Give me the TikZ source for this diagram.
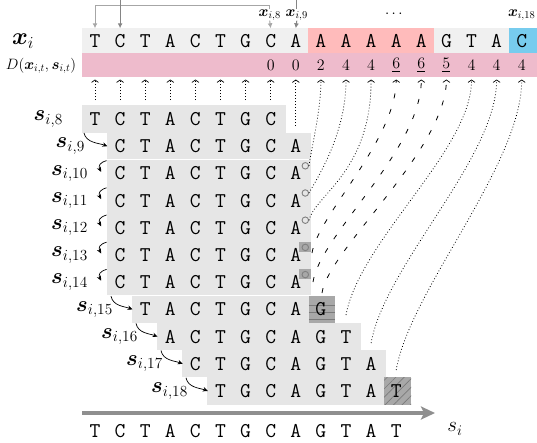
\documentclass[tikz,border=0pt]{standalone}
\usepackage{fix-cm}
\usepackage{fontspec}
\usepackage{amsmath,bm}
\usetikzlibrary{arrows.meta,patterns.meta}
\definecolor{rowgray}{HTML}{E6E6E6}
\definecolor{topgray}{HTML}{F0F0F0}
\definecolor{dpink}{HTML}{EEBBCC}
\definecolor{apink}{HTML}{FFBBBB}
\definecolor{cblue}{HTML}{77CCEE}
\definecolor{markgray}{HTML}{A8A8A8}
\definecolor{hatchgray}{HTML}{7A7A7A}
\definecolor{lightarr}{HTML}{A6A6A6}
\definecolor{darkarr}{HTML}{858585}
\definecolor{bigarr}{HTML}{8F8F8F}
\newcommand\posx[1]{(95+(#1-1)*25.1)}
\newcommand\posy[1]{(119+(#1-8)*27.2)}
\tikzset{
  lt/.style={font=\fontsize{21}{25}\selectfont\ttfamily, inner sep=0pt, minimum width=25pt, minimum height=25pt},
  dv/.style={font=\fontsize{16}{19}\selectfont, inner sep=0pt, minimum height=28pt},
  slab/.style={font=\fontsize{22}{26}\selectfont, inner sep=0pt, anchor=east},
  tlab/.style={font=\fontsize{15}{18}\selectfont, inner sep=0pt},
  tiparr/.style={-{Straight Barb[length=2.5pt,width=7pt,line width=0.7pt]}},
  dotc/.style={tiparr, line width=0.8pt, dash pattern=on 0.8pt off 2.2pt},
  dashc/.style={tiparr, line width=0.8pt, dash pattern=on 5pt off 11pt},
  bendarr/.style={line width=0.7pt, -{Stealth[length=5pt,width=4.5pt]}},
  marker/.style={circle, draw=gray, line width=0.9pt, inner sep=0pt, minimum size=6.5pt},
}
\newcommand\seqrow[3]{\foreach \ch [count=\j from #2] in {#3} {\node[lt] (r#1-\j) at ({\posx{\j}},{\posy{#1}}) {\ch};}}
\begin{document}
\begin{tikzpicture}[x=1pt,y=-1pt]
\useasboundingbox (0,0) rectangle (537,442);
% header backgrounds
\fill[topgray] (82,28) rectangle (537,53);
\fill[apink] ({\posx{10}-12.55},28) rectangle ({\posx{14}+12.55},53);
\fill[cblue] ({\posx{18}-12.55},28) rectangle (537,53);
\fill[dpink] (82,53) rectangle (537,77);
% row boxes
\fill[rowgray] (82,{\posy{8}-13.6}) rectangle ({\posx{8}+15},{\posy{8}+13.6});
\fill[rowgray] ({\posx{2}-13.5},{\posy{9}-13.6}) rectangle ({\posx{9}+15},{\posy{14}+13.6});
\fill[rowgray] ({\posx{3}-13.5},{\posy{15}-13.6}) rectangle ({\posx{9}+13},{\posy{15}+13.6});
\fill[rowgray] ({\posx{4}-13.5},{\posy{16}-13.6}) rectangle ({\posx{11}+15},{\posy{16}+13.6});
\fill[rowgray] ({\posx{5}-13.5},{\posy{17}-13.6}) rectangle ({\posx{12}+15},{\posy{17}+13.6});
\fill[rowgray] ({\posx{6}-13.5},{\posy{18}-13.6}) rectangle ({\posx{12}+13},{\posy{18}+13.6});
\draw[white,line width=0.8pt] ({\posx{2}-13.5},{\posy{9}+13.6}) -- ({\posx{9}+15},{\posy{9}+13.6});
\draw[white,line width=0.8pt] ({\posx{2}-13.5},{\posy{14}+13.6}) -- ({\posx{9}+15},{\posy{14}+13.6});
% G box with lines
\fill[markgray] ({\posx{9}+13},{\posy{15}-13.6}) rectangle ({\posx{10}+14},{\posy{15}+13.6});
\foreach \dy in {-4.4,2.6,9.6}
  \draw[hatchgray,line width=0.6pt] ({\posx{9}+13},{\posy{15}+\dy}) -- ({\posx{10}+14},{\posy{15}+\dy});
% T box hatched
\fill[markgray] ({\posx{12}+13},{\posy{18}-13.6}) rectangle ({\posx{13}+15},{\posy{18}+13.6});
\path[pattern={Lines[angle=45,distance=6pt,line width=0.6pt]},pattern color=hatchgray]
  ({\posx{12}+13},{\posy{18}-13.6}) rectangle ({\posx{13}+15},{\posy{18}+13.6});
% marker squares
\foreach \t in {13,14}
  \fill[markgray] ({\posx{9}+3.5},{\posy{\t}-13.1}) rectangle ({\posx{9}+15.5},{\posy{\t}-3.1});

% top sequence
\foreach \ch [count=\k] in {T,C,T,A,C,T,G,C,A,A,A,A,A,A,G,T,A,C}
  \node[lt] (x\k) at ({\posx{\k}},41) {\ch};
% D values
\foreach \k/\v in {8/0,9/0,10/2,11/4,12/4,13/\underline{6},14/\underline{6},15/\underline{5},16/4,17/4,18/4}
  \node[dv] (d\k) at ({\posx{\k}},65) {$\v$};
\foreach \k in {1,...,18}
  \coordinate (dt\k) at ({\posx{\k}},79.5);

% left labels
\node[font=\fontsize{24}{28}\selectfont,inner sep=0pt] (lxi) at (23,41) {$\bm{x}_i$};
\node[font=\fontsize{15}{18}\selectfont,inner sep=0pt] (ldl) at (41,66) {$D(\bm{x}_{i,t},\bm{s}_{i,t})$};

% top labels and bracket arrows
\node[tlab] (lx8) at ({\posx{8}-1},15) {$\bm{x}_{i,8}$};
\node[tlab] (lx9) at ({\posx{9}+1},15) {$\bm{x}_{i,9}$};
\node[tlab] (ldots) at (395,14) {$\cdots$};
\node[tlab] (lx18) at ({\posx{18}},15) {$\bm{x}_{i,18}$};
\draw[lightarr,line width=1pt,-{Latex[length=5pt,width=5pt]}] (lx8.north) -- ++(0,-4) -| (x1.north);
\draw[darkarr,line width=1pt,-{Latex[length=5pt,width=5pt]}] (lx9.north) -- ++(0,-11) -| (x2.north);
\draw[lightarr,line width=1pt,-{Latex[length=5pt,width=5pt]}] (lx8.south) -- (x8.north);
\draw[darkarr,line width=1pt,-{Latex[length=5pt,width=5pt]}] (lx9.south) -- (x9.north);

% rows
\seqrow{8}{1}{T,C,T,A,C,T,G,C}
\seqrow{9}{2}{C,T,A,C,T,G,C,A}
\foreach \t in {10,...,14} {\seqrow{\t}{2}{C,T,A,C,T,G,C,A}}
\seqrow{15}{3}{T,A,C,T,G,C,A,G}
\seqrow{16}{4}{A,C,T,G,C,A,G,T}
\seqrow{17}{5}{C,T,G,C,A,G,T,A}
\seqrow{18}{6}{T,G,C,A,G,T,A,T}

% row labels
\node[slab] (ls8) at (63,{\posy{8}}) {$\bm{s}_{i,8}$};
\node[slab] (ls9) at (85,{\posy{9}}) {$\bm{s}_{i,9}$};
\foreach \t in {10,...,14}
  \node[slab] (ls\t) at (88,{\posy{\t}}) {$\bm{s}_{i,\t}$};
\node[slab] (ls15) at (113,{\posy{15}}) {$\bm{s}_{i,15}$};
\node[slab] (ls16) at (138,{\posy{16}}) {$\bm{s}_{i,16}$};
\node[slab] (ls17) at (163,{\posy{17}}) {$\bm{s}_{i,17}$};
\node[slab] (ls18) at (188,{\posy{18}}) {$\bm{s}_{i,18}$};

% curved label arrows
\draw[bendarr] ([xshift=-1pt,yshift=5pt]ls9.north east) .. controls +(2,10) and +(-8,-3) .. (r9-2.west);
\draw[bendarr] ([xshift=-2pt,yshift=5pt]ls15.north east) .. controls +(2,10) and +(-8,-3) .. (r15-3.west);
\draw[bendarr] ([xshift=-2pt,yshift=5pt]ls16.north east) .. controls +(2,10) and +(-8,-3) .. (r16-4.west);
\draw[bendarr] ([xshift=-2pt,yshift=5pt]ls17.north east) .. controls +(2,10) and +(-8,-3) .. (r17-5.west);
\draw[bendarr] ([xshift=-2pt,yshift=5pt]ls18.north east) .. controls +(2,10) and +(-8,-3) .. (r18-6.west);
\foreach \t in {10,...,14} {
  \coordinate (bs\t) at ({\posx{2}-13.5},{\posy{\t}-12.8});
  \coordinate (be\t) at ({\posx{2}-19},{\posy{\t}-1.5});
  \draw[bendarr] (bs\t) .. controls +(-7,2) and +(-3,-6) .. (be\t);
}

% markers
\foreach \t in {10,...,14}
  \node[marker] (m\t) at ({\posx{9}+9.5},{\posy{\t}-7.6}) {};

% connectors to D row
\foreach \k in {1,...,8} {
  \coordinate (sb\k) at ({\posx{\k}},100);
  \draw[dotc] (sb\k) -- (dt\k);
}
\coordinate (c9) at ({\posx{9}},126);
\draw[dotc] (c9) -- (dt9);
\draw[dotc] (m10.east) .. controls (312,145) and (321,110) .. (dt10);
\draw[dotc] (m11.east) .. controls (316,180) and (346,135) .. (dt11);
\draw[dotc] (m12.east) .. controls (315,195) and (371,172) .. (dt12);
\coordinate (c13) at (312,253);
\coordinate (c14) at (313,282);
\coordinate (c15) at (322,293);
\draw[dashc] (c13) .. controls (318,215) and (396,140) .. (dt13);
\draw[dashc] (c14) .. controls (320,235) and (421,150) .. (dt14);
\draw[dashc] (c15) .. controls (328,250) and (446,150) .. (dt15);
\coordinate (c16) at ({\posx{11}},315);
\coordinate (c17) at ({\posx{12}},343);
\coordinate (c18) at ({\posx{13}},370);
\draw[dotc] (c16) .. controls (360,240) and (471.5,150) .. (dt16);
\draw[dotc] (c17) .. controls (385,265) and (496.6,158) .. (dt17);
\draw[dotc] (c18) .. controls (410,290) and (521.7,165) .. (dt18);

% bottom arrow and sequence
\coordinate (ast) at (82,413);
\coordinate (aen) at (435,413);
\draw[bigarr,line width=3.2pt,-{Stealth[length=14pt,width=13pt,inset=3pt]}] (ast) -- (aen);
\node[font=\fontsize{21}{25}\selectfont,inner sep=0pt] (lsi) at (455,429) {$s_i$};
\foreach \ch [count=\k] in {T,C,T,A,C,T,G,C,A,G,T,A,T}
  \node[lt] (b\k) at ({\posx{\k}},431) {\ch};
\end{tikzpicture}
\end{document}
